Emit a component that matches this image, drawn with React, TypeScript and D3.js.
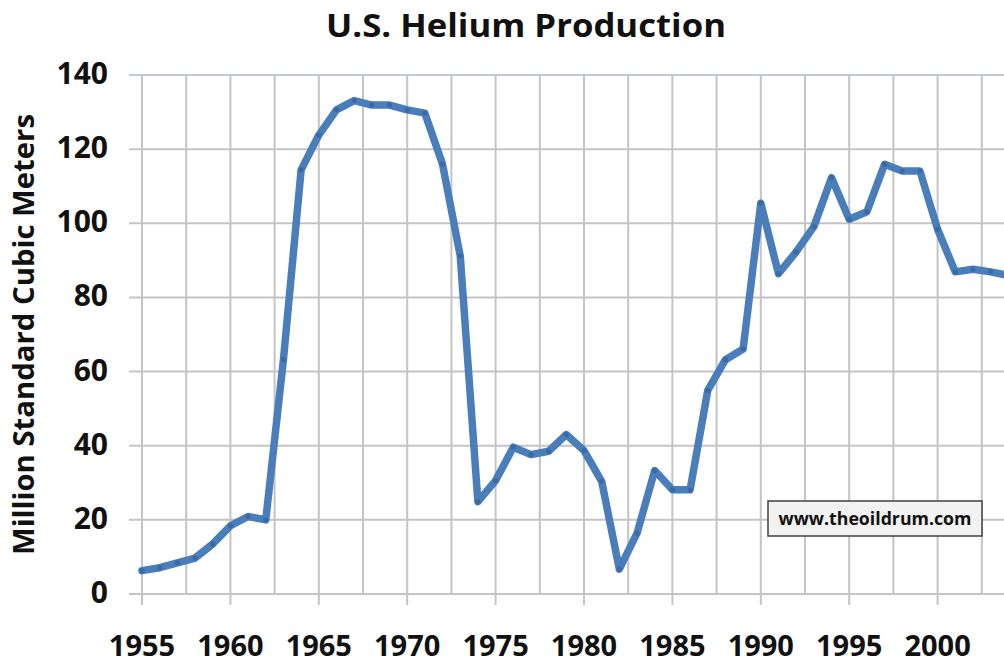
import React from "react";
import * as d3 from "d3";

// U.S. helium production, million standard cubic meters
const years = [
  1955, 1956, 1957, 1958, 1959, 1960, 1961, 1962, 1963, 1964, 1965, 1966,
  1967, 1968, 1969, 1970, 1971, 1972, 1973, 1974, 1975, 1976, 1977, 1978,
  1979, 1980, 1981, 1982, 1983, 1984, 1985, 1986, 1987, 1988, 1989, 1990,
  1991, 1992, 1993, 1994, 1995, 1996, 1997, 1998, 1999, 2000, 2001, 2002,
  2003, 2004,
];
const production = [
  6.3, 7.1, 8.4, 9.7, 13.5, 18.4, 20.9, 20.0, 63.2, 114.4, 123.8, 130.6,
  133.1, 131.9, 131.9, 130.6, 129.7, 115.9, 91.2, 24.9, 30.6, 39.6, 37.6,
  38.5, 43.0, 38.7, 30.4, 6.7, 16.4, 33.3, 28.1, 28.1, 54.9, 63.2, 66.1,
  105.4, 86.4, 92.3, 99.1, 112.3, 101.1, 103.1, 115.9, 114.1, 114.1, 98.4,
  86.9, 87.6, 86.9, 85.9,
];
const yTicks = [0, 20, 40, 60, 80, 100, 120, 140];
const xLabels = [1955, 1960, 1965, 1970, 1975, 1980, 1985, 1990, 1995, 2000];
const xGrid = d3.range(1955, 2005, 2.5);

const W = 1004;
const H = 664;
const FONT = "'Open Sans', 'Liberation Sans', sans-serif";

export default function App() {
  const x = d3.scaleLinear().domain([1955, 2005]).range([142, 142 + 50 * 17.68]);
  const y = d3.scaleLinear().domain([0, 140]).range([594, 75]);

  const pts = years.map((yr, i) => [yr, production[i]] as [number, number]);
  const line = d3
    .line<[number, number]>()
    .x((d) => x(d[0]))
    .y((d) => y(d[1]));

  return (
    <svg
      width={W}
      height={H}
      style={{ position: "absolute", left: 0, top: 0, background: "#fff" }}
    >
      <text
        x={526}
        y={37}
        textAnchor="middle"
        fontFamily={FONT}
        fontWeight={700}
        fontSize={33}
        textLength={400}
        lengthAdjust="spacingAndGlyphs"
        fill="#111"
      >
        U.S. Helium Production
      </text>

      {/* horizontal grid + y ticks */}
      {yTicks.map((t) => (
        <line
          key={"h" + t}
          x1={129}
          x2={W}
          y1={y(t)}
          y2={y(t)}
          stroke={t === 140 ? "#c3cad6" : "#c4c4c4"}
          strokeWidth={2}
        />
      ))}
      {/* vertical grid, 5-year lines run down as ticks */}
      {xGrid.map((g) => (
        <line
          key={"v" + g}
          x1={x(g)}
          x2={x(g)}
          y1={y(140)}
          y2={(g - 1955) % 5 === 0 ? 605 : y(0)}
          stroke="#c4c4c4"
          strokeWidth={2}
        />
      ))}

      {yTicks.map((t) => (
        <text
          key={"yl" + t}
          x={108}
          y={y(t) + 9}
          textAnchor="end"
          fontFamily={FONT}
          fontWeight={700}
          fontSize={30}
          fill="#111"
        >
          {t}
        </text>
      ))}
      {xLabels.map((t) => (
        <text
          key={"xl" + t}
          x={x(t)}
          y={656}
          textAnchor="middle"
          fontFamily={FONT}
          fontWeight={700}
          fontSize={29}
          fill="#111"
        >
          {t}
        </text>
      ))}

      <text
        transform="translate(33.5,334.5) rotate(-90)"
        textAnchor="middle"
        fontFamily={FONT}
        fontWeight={700}
        fontSize={29}
        textLength={441}
        lengthAdjust="spacingAndGlyphs"
        fill="#111"
      >
        Million Standard Cubic Meters
      </text>

      <path
        d={line(pts) || ""}
        fill="none"
        stroke="#4a7ebb"
        strokeWidth={7.5}
        strokeLinejoin="round"
        strokeLinecap="round"
      />
      {pts.map((d) => (
        <circle key={"p" + d[0]} cx={x(d[0])} cy={y(d[1])} r={2.6} fill="#3a6aa6" />
      ))}

      <rect x={768} y={501} width={214} height={35} fill="#f2f2f2" stroke="#404040" strokeWidth={1.5} />
      <text
        x={875}
        y={525}
        textAnchor="middle"
        fontFamily={FONT}
        fontWeight={700}
        fontSize={17}
        textLength={193}
        lengthAdjust="spacingAndGlyphs"
        fill="#111"
      >
        www.theoildrum.com
      </text>
    </svg>
  );
}
